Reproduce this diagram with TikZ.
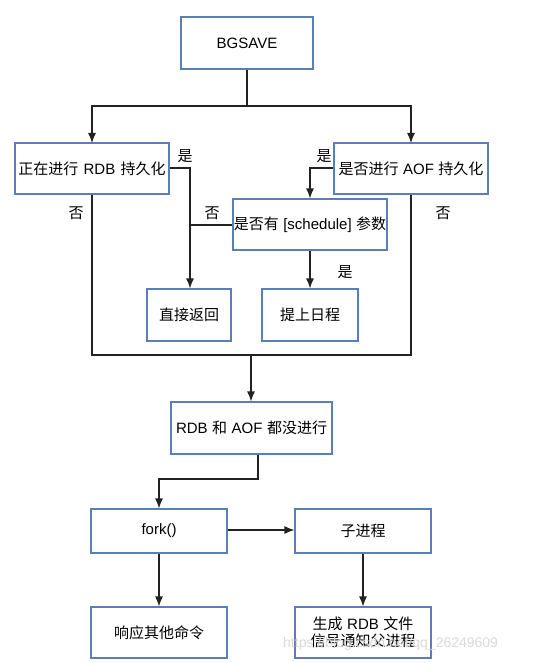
\documentclass[tikz,border=0pt]{standalone}
\usepackage{fontspec}
\setmainfont{Liberation Sans}
\newfontfamily\cjk{Noto Sans CJK SC}
\usetikzlibrary{arrows.meta}
\definecolor{boxblue}{HTML}{5A7EB8}
\definecolor{linegray}{HTML}{222222}
\begin{document}
\begin{tikzpicture}[x=1pt,y=-1pt,
  box/.style={draw=boxblue,line width=1.1pt,fill=white,inner sep=0pt,
    font=\fontsize{15}{18}\selectfont},
  conn/.style={draw=linegray,line width=1.2pt},
  arr/.style={conn,-{Latex[length=10pt,width=8pt]}},
  lbl/.style={font=\fontsize{15}{18}\selectfont\cjk,inner sep=0pt}]
\useasboundingbox (0,0) rectangle (535,663);
\newcommand{\bx}[6]{\node[box,minimum width=#4-#2,minimum height=#5-#3,align=center] (#1) at ({(#2+#4)/2},{(#3+#5)/2}) {#6};}
\bx{bgsave}{181}{17}{313}{69}{BGSAVE}
\bx{rdb}{15}{143}{169}{194}{{\cjk 正在进行}\hspace{0.35em}RDB\hspace{0.35em}{\cjk 持久化}}
\bx{aof}{334}{143}{488}{194}{{\cjk 是否进行}\hspace{0.3em}AOF\hspace{0.3em}{\cjk 持久化}}
\bx{sched}{233}{199}{387}{250}{{\cjk 是否有}\hspace{0.3em}[schedule]\hspace{0.3em}{\cjk 参数}}
\bx{ret}{147}{289}{231}{341}{\cjk 直接返回}
\bx{plan}{262}{289}{358}{341}{\cjk 提上日程}
\bx{none}{171}{402}{332}{454}{RDB\hspace{0.3em}{\cjk 和}\hspace{0.3em}AOF\hspace{0.3em}{\cjk 都没进行}}
\bx{fork}{91}{509}{227}{553}{fork()}
\bx{child}{295}{509}{431}{553}{\cjk 子进程}
\bx{resp}{91}{607}{227}{658}{\cjk 响应其他命令}
\bx{gen}{295}{607}{431}{658}{{\cjk 生成}\hspace{0.3em}RDB\hspace{0.3em}{\cjk 文件}\\[-1pt]{\cjk 信号通知父进程}}

\coordinate (split) at (247,106);
\coordinate (join) at (251,355);
\coordinate (jl) at (92,355);
\coordinate (jr) at (411,355);
\coordinate (sj) at (190,225);

\draw[conn] (bgsave.south) -- (split);
\draw[arr] (split) -| (92,143);
\draw[arr] (split) -| (411,143);
\draw[arr] (rdb.east |- 0,168) -| (ret.north -| sj);
\draw[conn] (sched.west |- sj) -- (sj);
\draw[arr] (aof.west |- 0,168) -| (sched.north -| 310,0);
\draw[arr] (sched.south -| 310,0) -- (plan.north -| 310,0);
\draw[conn] (rdb.south -| jl) -- (jl) -- (jr) -- (aof.south -| jr);
\draw[arr] (join) -- (none.north -| join);
\draw[arr] (none.south -| 258,0) |- (159,479) -- (fork.north -| 159,0);
\draw[arr] (fork.east |- 0,530) -- (child.west |- 0,530);
\draw[arr] (fork.south -| 159,0) -- (resp.north -| 159,0);
\draw[arr] (child.south -| 363,0) -- (gen.north -| 363,0);

\node[lbl] (l1) at (185,156) {是};
\node[lbl] (l2) at (324,156) {是};
\node[lbl] (l3) at (76,213) {否};
\node[lbl] (l4) at (212,213) {否};
\node[lbl] (l5) at (443,213) {否};
\node[lbl] (l6) at (345,272) {是};
\node[font=\fontsize{14}{16}\selectfont,text=black!15,anchor=west,inner sep=0pt] (wm) at (283,644) {https://blog.csdn.net/qq\_26249609};
\end{tikzpicture}
\end{document}
